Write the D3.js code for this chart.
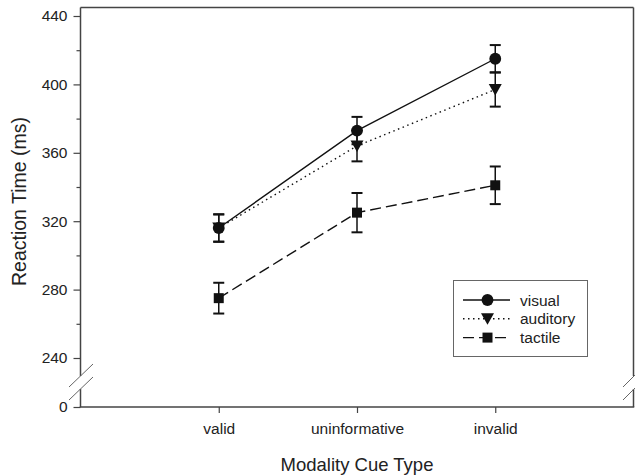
<!DOCTYPE html>
<html><head><meta charset="utf-8">
<script src="https://cdn.jsdelivr.net/npm/d3@7/dist/d3.min.js"></script>
<style>body{margin:0;background:#fff}svg{display:block}text{font-family:"Liberation Sans",Arial,sans-serif;fill:#222}</style>
</head><body>
<script>
const categories = ["valid", "uninformative", "invalid"];
const visual = [316, 373, 415];
const visualErr = [8, 8, 8];
const auditory = [316, 364, 397];
const auditoryErr = [8, 9, 10];
const tactile = [275, 325, 341];
const tactileErr = [9, 11.5, 11];
const yTicks = [240, 280, 320, 360, 400, 440];
const yMinorTicks = [260, 300, 340, 380, 420];
const seriesNames = ["visual", "auditory", "tactile"];

const W = 635, H = 475;
const L = 80.5, R = 633.5, T = 7.5, B = 407;
const svg = d3.select("body").append("svg").attr("width", W).attr("height", H);

const x = d3.scaleLinear().domain([0, 4]).range([L, R]);
const y = d3.scaleLinear().domain([240, 440]).range([358, 16]);
const yLow = d3.scaleLinear().domain([0, 10]).range([B, 389]);
const breakHi = y(229.5), breakLo = yLow(10);

const axisColor = "#444";
// frame
const frame = svg.append("g").attr("stroke", axisColor).attr("stroke-width", 1.5).attr("fill", "none");
frame.append("line").attr("x1", L).attr("x2", R).attr("y1", T).attr("y2", T);
frame.append("line").attr("x1", L - 0.75).attr("x2", R + 0.75).attr("y1", B).attr("y2", B);
[L, R].forEach(xx => {
  frame.append("line").attr("x1", xx).attr("x2", xx).attr("y1", T).attr("y2", breakHi);
  frame.append("line").attr("x1", xx).attr("x2", xx).attr("y1", breakLo).attr("y2", B);
});
// break marks
const br = svg.append("g").attr("stroke", "#666").attr("stroke-width", 1);
[[69, 387, 93, 364], [69, 400, 93, 377], [623, 387, 635, 375], [623, 400, 636, 387]].forEach(d => {
  br.append("line").attr("x1", d[0]).attr("y1", d[1]).attr("x2", d[2]).attr("y2", d[3]);
});

// y axis major
const gy = svg.append("g").attr("transform", `translate(${L},0)`)
  .call(d3.axisLeft(y).tickValues(yTicks).tickSize(7).tickPadding(6).tickFormat(d3.format("d")));
gy.select(".domain").remove();
const gyMinor = svg.append("g").attr("transform", `translate(${L},0)`)
  .call(d3.axisLeft(y).tickValues(yMinorTicks).tickSize(4).tickFormat(""));
gyMinor.select(".domain").remove();
const gy0 = svg.append("g").attr("transform", `translate(${L},0)`)
  .call(d3.axisLeft(yLow).tickValues([0]).tickSize(7).tickPadding(6).tickFormat(d3.format("d")));
gy0.select(".domain").remove();
[gy, gyMinor, gy0].forEach(g => {
  g.selectAll("line").attr("stroke", axisColor).attr("stroke-width", 1.2);
  g.selectAll("text").style("font-size", "15.5px").attr("fill", "#222").style("font-family", '"Liberation Sans",Arial,sans-serif');
});

// x axis
const gx = svg.append("g").attr("transform", `translate(0,${B})`)
  .call(d3.axisBottom(x).tickValues([1, 2, 3]).tickSize(6).tickPadding(10).tickFormat(i => categories[i - 1]));
gx.select(".domain").remove();
gx.selectAll("line").attr("stroke", axisColor).attr("stroke-width", 1.2);
gx.selectAll("text").style("font-size", "15.5px").attr("fill", "#222").style("font-family", '"Liberation Sans",Arial,sans-serif');

// titles
svg.append("text").attr("x", x(2)).attr("y", 470.5).attr("text-anchor", "middle")
  .style("font-size", "18.5px").text("Modality Cue Type");
svg.append("text").attr("transform", `translate(19,${(115 + 288) / 2}) rotate(-90)`).attr("text-anchor", "middle")
  .attr("dominant-baseline", "central").style("font-size", "19.5px").text("Reaction Time (ms)");

const series = [
  {name: seriesNames[0], vals: visual, err: visualErr, dash: null, shape: d3.symbolCircle, size: 110},
  {name: seriesNames[1], vals: auditory, err: auditoryErr, dash: "1.5,3.5", shape: "tri", size: 0},
  {name: seriesNames[2], vals: tactile, err: tactileErr, dash: "11,5", shape: d3.symbolSquare, size: 100}
];
function drawMarker(g, s, cx, cy) {
  if (s.shape === "tri") {
    g.append("path").attr("d", `M${cx - 6.5},${cy - 5.5}L${cx + 6.5},${cy - 5.5}L${cx},${cy + 6}Z`).attr("fill", "#111");
  } else {
    g.append("path").attr("d", d3.symbol().type(s.shape).size(s.size)()).attr("transform", `translate(${cx},${cy})`).attr("fill", "#111");
  }
}
const line = d3.line().x((d, i) => x(i + 1)).y(d => y(d));
// lines
series.slice().reverse().forEach(s => {
  svg.append("path").datum(s.vals).attr("d", line).attr("fill", "none").attr("stroke", "#111")
    .attr("stroke-width", 1.4).attr("stroke-dasharray", s.dash);
});
// error bars and markers
series.slice().reverse().forEach(s => {
  const g = svg.append("g");
  s.vals.forEach((v, i) => {
    const cx = x(i + 1);
    g.append("line").attr("x1", cx).attr("x2", cx).attr("y1", y(v - s.err[i])).attr("y2", y(v + s.err[i])).attr("stroke", "#111").attr("stroke-width", 1.5);
    [v - s.err[i], v + s.err[i]].forEach(e => {
      g.append("line").attr("x1", cx - 5.5).attr("x2", cx + 5.5).attr("y1", y(e)).attr("y2", y(e)).attr("stroke", "#111").attr("stroke-width", 2);
    });
    drawMarker(g, s, cx, y(v));
  });
});

// legend
const lg = svg.append("g");
lg.append("rect").attr("x", 453.5).attr("y", 280.5).attr("width", 134).attr("height", 76)
  .attr("fill", "#fff").attr("stroke", "#666").attr("stroke-width", 1);
series.forEach((s, i) => {
  const yy = 300 + i * 18.8;
  lg.append("line").attr("x1", 463).attr("x2", 510).attr("y1", yy).attr("y2", yy).attr("stroke", "#111")
    .attr("stroke-width", 1.4).attr("stroke-dasharray", s.dash);
  drawMarker(lg, s, 487.5, yy);
  lg.append("text").attr("x", 520).attr("y", yy).attr("dominant-baseline", "central").style("font-size", "15.5px").text(s.name);
});
</script>
</body></html>
